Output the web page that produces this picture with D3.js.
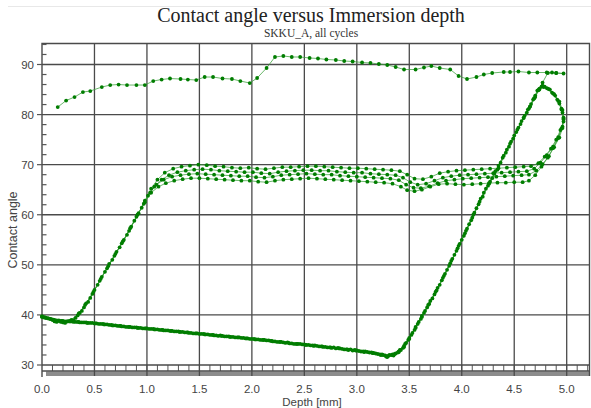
<!DOCTYPE html>
<html>
<head>
<meta charset="utf-8">
<script src="https://cdn.jsdelivr.net/npm/d3@7"></script>
<style>
  body { margin: 0; background: #fff; }
  svg { display: block; }
</style>
</head>
<body>
<div id="chart"></div>
<script>
const titleText = "Contact angle versus Immersion depth";
const subtitleText = "SKKU_A, all cycles";
const xLabel = "Depth [mm]";
const yLabel = "Contact angle";

const xTicks = [0, 0.5, 1, 1.5, 2, 2.5, 3, 3.5, 4, 4.5, 5];
const yTicks = [30, 40, 50, 60, 70, 80, 90];

// cycle 1: first immersion (upper curve), then withdrawal
const cycle1Adv = [[0.15,81.5],[0.23,82.8],[0.31,83.5],[0.39,84.5],[0.46,84.7],[0.57,85.5],[0.65,85.9],[0.73,86.0],[0.81,85.9],[0.90,85.9],[0.98,85.9],[1.06,86.7],[1.14,87.0],[1.22,87.2],[1.32,87.1],[1.39,87.0],[1.47,86.9],[1.55,87.5],[1.63,87.5],[1.72,87.2],[1.81,87.1],[1.89,86.7],[1.98,86.3],[2.05,87.3],[2.14,89.3],[2.22,91.5],[2.30,91.7],[2.38,91.5],[2.46,91.5],[2.55,91.3],[2.63,91.2],[2.71,91.0],[2.80,90.9],[2.88,90.7],[2.96,90.6],[3.05,90.4],[3.13,90.3],[3.21,90.1],[3.29,89.9],[3.37,89.5],[3.45,89.0],[3.56,89.0],[3.64,89.4],[3.71,89.7],[3.79,89.3],[3.89,89.0],[3.97,87.7],[4.05,87.1],[4.14,87.5],[4.21,88.0],[4.29,88.3],[4.40,88.5],[4.46,88.5],[4.54,88.6],[4.64,88.4],[4.72,88.4],[4.81,88.4],[4.86,88.4],[4.90,88.3],[4.97,88.2]];
const cycle1Rec = [[4.90,88.3],[4.82,88.3],[4.77,86.4],[4.73,84.9],[4.69,83.3],[4.65,81.6],[4.59,79.3],[4.52,76.5],[4.45,73.6],[4.37,70.4],[4.29,67.3],[4.21,64.4],[4.14,61.3],[4.07,58.1],[4.00,55.0],[3.93,52.0],[3.86,49.0],[3.79,46.0],[3.72,43.3],[3.65,40.8],[3.59,38.6],[3.53,36.4],[3.47,34.4],[3.42,33.0],[3.37,32.3],[3.31,32.0],[3.24,32.1],[3.16,32.4],[3.08,32.7],[3.00,32.9],[2.92,33.0],[2.84,33.3],[2.76,33.4],[2.68,33.6],[2.60,33.9],[2.52,34.0],[2.44,34.2],[2.36,34.3],[2.28,34.6],[2.20,34.7],[2.12,35.0],[2.04,35.1],[1.96,35.3],[1.88,35.5],[1.80,35.6],[1.72,35.8],[1.64,35.9],[1.56,36.1],[1.48,36.3],[1.40,36.4],[1.32,36.6],[1.24,36.8],[1.16,36.9],[1.08,37.1],[1.00,37.3],[0.92,37.4],[0.84,37.6],[0.76,37.7],[0.68,37.9],[0.60,38.1],[0.52,38.3],[0.44,38.4],[0.36,38.5],[0.28,38.7],[0.20,38.8],[0.12,39.0],[0.04,39.4]];

const cycle2Adv = [[0.00,39.7],[0.08,39.2],[0.16,38.8],[0.24,38.7],[0.32,39.4],[0.38,40.8],[0.44,42.6],[0.50,45.0],[0.57,47.6],[0.64,50.2],[0.71,52.6],[0.78,55.0],[0.85,57.6],[0.92,60.3],[0.98,62.8],[1.04,65.2],[1.10,67.0],[1.17,68.4],[1.25,69.2],[1.33,69.6],[1.41,69.8],[1.49,70.0],[1.57,69.9],[1.65,69.7],[1.73,69.6],[1.81,69.4],[1.89,69.3],[1.97,69.4],[2.05,69.2],[2.13,69.1],[2.21,69.3],[2.29,69.5],[2.37,69.5],[2.45,69.6],[2.53,69.7],[2.61,69.7],[2.69,69.6],[2.77,69.5],[2.85,69.4],[2.93,69.3],[3.01,69.3],[3.09,69.2],[3.17,69.1],[3.25,69.0],[3.33,68.9],[3.41,68.7],[3.48,68.0],[3.55,67.2],[3.63,67.1],[3.71,67.6],[3.79,68.3],[3.87,68.6],[3.95,68.8],[4.03,68.9],[4.11,69.0],[4.19,69.1],[4.27,69.2],[4.35,69.3],[4.43,69.4],[4.51,69.5],[4.59,69.6],[4.66,69.7],[4.73,70.3],[4.79,71.6],[4.85,73.2],[4.90,75.0],[4.94,76.9],[4.97,78.6],[4.96,80.4],[4.93,82.2],[4.89,83.8],[4.84,85.0],[4.79,85.6]];
const cycle2Rec = [[4.74,85.2],[4.70,83.8],[4.66,82.1],[4.62,80.4],[4.56,78.1],[4.49,75.2],[4.42,72.4],[4.34,69.0],[4.26,66.2],[4.18,63.2],[4.11,60.0],[4.04,56.8],[3.97,53.8],[3.90,50.8],[3.83,47.8],[3.76,44.9],[3.69,42.2],[3.62,39.8],[3.56,37.6],[3.50,35.4],[3.45,33.8],[3.40,32.7],[3.34,32.1],[3.27,31.9],[3.20,32.2],[3.12,32.5],[3.04,32.7],[2.96,32.9],[2.88,33.1],[2.80,33.3],[2.72,33.5],[2.64,33.7],[2.56,33.9],[2.48,34.1],[2.40,34.2],[2.32,34.4],[2.24,34.6],[2.16,34.9],[2.08,35.0],[2.00,35.2],[1.92,35.4],[1.84,35.5],[1.76,35.7],[1.68,35.8],[1.60,36.0],[1.52,36.2],[1.44,36.3],[1.36,36.5],[1.28,36.7],[1.20,36.9],[1.12,37.0],[1.04,37.2],[0.96,37.3],[0.88,37.5],[0.80,37.6],[0.72,37.8],[0.64,38.0],[0.56,38.2],[0.48,38.4],[0.40,38.5],[0.32,38.6],[0.24,38.7],[0.16,38.9],[0.08,39.2],[0.00,39.6]];

const cycle3Adv = [[0.02,39.5],[0.10,39.0],[0.18,38.6],[0.26,38.8],[0.34,39.9],[0.40,41.5],[0.46,43.4],[0.53,46.0],[0.60,48.6],[0.67,51.0],[0.74,53.5],[0.81,56.0],[0.88,58.8],[0.95,61.4],[1.01,63.8],[1.07,65.6],[1.14,67.0],[1.21,67.9],[1.29,68.5],[1.37,68.8],[1.45,69.0],[1.53,69.1],[1.61,69.0],[1.69,68.8],[1.77,68.7],[1.85,68.6],[1.93,68.5],[2.01,68.5],[2.09,68.3],[2.17,68.2],[2.25,68.5],[2.33,68.7],[2.41,68.8],[2.49,68.9],[2.57,68.9],[2.65,68.8],[2.73,68.8],[2.81,68.6],[2.89,68.5],[2.97,68.4],[3.05,68.4],[3.13,68.2],[3.21,68.1],[3.29,68.0],[3.37,67.9],[3.44,67.4],[3.51,66.5],[3.58,66.0],[3.66,66.2],[3.74,66.8],[3.82,67.4],[3.90,67.7],[3.98,67.9],[4.06,68.0],[4.14,68.1],[4.22,68.2],[4.30,68.3],[4.38,68.4],[4.46,68.5],[4.54,68.6],[4.62,68.7],[4.69,69.2],[4.75,70.4],[4.81,71.9],[4.87,73.6],[4.92,75.5],[4.96,77.6],[4.97,79.4],[4.95,81.2],[4.91,83.0],[4.86,84.4],[4.81,85.3],[4.77,85.8]];
const cycle3Rec = [[4.73,84.9],[4.69,83.2],[4.64,81.2],[4.59,79.4],[4.53,77.0],[4.46,74.2],[4.39,71.4],[4.31,68.2],[4.23,65.2],[4.16,62.1],[4.09,58.9],[4.02,55.8],[3.95,52.8],[3.88,49.8],[3.81,46.9],[3.74,44.1],[3.67,41.5],[3.61,39.2],[3.55,37.0],[3.49,35.0],[3.44,33.4],[3.39,32.5],[3.33,32.0],[3.28,31.7],[3.22,32.1],[3.14,32.5],[3.06,32.7],[2.98,33.0],[2.90,33.1],[2.82,33.4],[2.74,33.5],[2.66,33.7],[2.58,33.9],[2.50,34.1],[2.42,34.2],[2.34,34.5],[2.26,34.6],[2.18,34.8],[2.10,35.0],[2.02,35.2],[1.94,35.3],[1.86,35.5],[1.78,35.7],[1.70,35.9],[1.62,36.0],[1.54,36.2],[1.46,36.3],[1.38,36.5],[1.30,36.7],[1.22,36.8],[1.14,37.0],[1.06,37.2],[0.98,37.3],[0.90,37.5],[0.82,37.6],[0.74,37.8],[0.66,38.0],[0.58,38.2],[0.50,38.3],[0.42,38.5],[0.34,38.6],[0.26,38.7],[0.18,38.8],[0.10,39.1],[0.02,39.5]];

const cycle4Adv = [[0.04,39.4],[0.12,38.7],[0.20,38.5],[0.28,39.0],[0.35,40.3],[0.41,42.0],[0.48,44.2],[0.55,46.8],[0.62,49.3],[0.69,51.8],[0.76,54.3],[0.83,56.8],[0.90,59.6],[0.97,62.2],[1.03,64.4],[1.09,66.0],[1.16,67.0],[1.24,67.6],[1.32,67.9],[1.40,68.1],[1.48,68.2],[1.56,68.1],[1.64,68.0],[1.72,67.9],[1.80,67.8],[1.88,67.7],[1.96,67.7],[2.04,67.5],[2.12,67.4],[2.20,67.6],[2.28,67.9],[2.36,68.0],[2.44,68.1],[2.52,68.2],[2.60,68.1],[2.68,68.0],[2.76,68.0],[2.84,67.8],[2.92,67.7],[3.00,67.6],[3.08,67.5],[3.16,67.4],[3.24,67.3],[3.32,67.2],[3.40,66.9],[3.47,66.0],[3.54,65.4],[3.61,65.3],[3.69,65.7],[3.77,66.3],[3.85,66.8],[3.93,67.0],[4.01,67.2],[4.09,67.3],[4.17,67.4],[4.25,67.5],[4.33,67.6],[4.41,67.7],[4.49,67.8],[4.57,67.9],[4.64,68.0],[4.71,68.8],[4.77,70.1],[4.83,71.7],[4.88,73.5],[4.93,75.4],[4.96,77.3],[4.97,79.2],[4.95,81.0],[4.92,82.7],[4.87,84.2],[4.82,85.2],[4.76,85.6]];
const cycle4Rec = [[4.72,84.8],[4.68,83.0],[4.63,81.0],[4.57,78.7],[4.50,75.8],[4.43,73.0],[4.35,69.8],[4.27,66.6],[4.20,63.6],[4.12,60.4],[4.05,57.2],[3.98,54.2],[3.91,51.2],[3.84,48.2],[3.77,45.4],[3.70,42.8],[3.64,40.4],[3.58,38.2],[3.52,36.0],[3.46,34.2],[3.41,33.0],[3.36,32.2],[3.30,31.8],[3.25,32.0],[3.18,32.3],[3.10,32.6],[3.02,32.8],[2.94,33.1],[2.86,33.2],[2.78,33.5],[2.70,33.6],[2.62,33.8],[2.54,34.0],[2.46,34.2],[2.38,34.3],[2.30,34.5],[2.22,34.7],[2.14,34.9],[2.06,35.1],[1.98,35.2],[1.90,35.4],[1.82,35.6],[1.74,35.7],[1.66,35.9],[1.58,36.1],[1.50,36.2],[1.42,36.4],[1.34,36.6],[1.26,36.7],[1.18,36.9],[1.10,37.1],[1.02,37.2],[0.94,37.4],[0.86,37.5],[0.78,37.7],[0.70,37.9],[0.62,38.1],[0.54,38.2],[0.46,38.4],[0.38,38.5],[0.30,38.6],[0.22,38.7],[0.14,38.9],[0.06,39.3],[0.00,39.7]];

const cycle5Adv = [[0.06,39.3],[0.14,38.6],[0.22,38.4],[0.30,38.9],[0.36,40.4],[0.42,42.3],[0.49,44.6],[0.56,47.2],[0.63,49.7],[0.70,52.2],[0.77,54.7],[0.84,57.3],[0.91,60.0],[0.98,62.5],[1.04,64.4],[1.11,65.6],[1.18,66.3],[1.26,66.8],[1.34,67.1],[1.42,67.3],[1.50,67.3],[1.58,67.2],[1.66,67.1],[1.74,67.0],[1.82,66.9],[1.90,66.8],[1.98,66.8],[2.06,66.6],[2.14,66.5],[2.22,66.8],[2.30,67.0],[2.38,67.1],[2.46,67.2],[2.54,67.3],[2.62,67.2],[2.70,67.1],[2.78,67.0],[2.86,66.9],[2.94,66.8],[3.02,66.7],[3.10,66.6],[3.18,66.5],[3.26,66.4],[3.34,66.2],[3.42,65.6],[3.48,64.9],[3.55,64.7],[3.62,65.0],[3.70,65.6],[3.78,66.1],[3.86,66.2],[3.94,66.1],[4.02,66.0],[4.10,66.1],[4.18,66.2],[4.26,66.3],[4.34,66.4],[4.42,66.4],[4.50,66.5],[4.58,66.5],[4.64,66.8],[4.70,67.9],[4.76,69.6],[4.82,71.4],[4.87,73.3],[4.92,75.3],[4.95,77.2],[4.97,79.0],[4.96,80.9],[4.93,82.6],[4.88,84.1],[4.83,85.1],[4.78,85.5]];
const cycle5Rec = [[4.74,85.0],[4.70,83.5],[4.65,81.6],[4.60,79.8],[4.54,77.4],[4.47,74.6],[4.40,71.8],[4.32,68.7],[4.25,65.8],[4.17,62.6],[4.10,59.4],[4.03,56.3],[3.96,53.3],[3.89,50.3],[3.82,47.4],[3.75,44.6],[3.68,42.0],[3.62,39.6],[3.56,37.4],[3.50,35.2],[3.45,33.6],[3.40,32.6],[3.35,31.9],[3.29,31.6],[3.23,32.0],[3.15,32.4],[3.07,32.6],[2.99,32.9],[2.91,33.1],[2.83,33.3],[2.75,33.5],[2.67,33.7],[2.59,33.8],[2.51,34.0],[2.43,34.2],[2.35,34.4],[2.27,34.6],[2.19,34.8],[2.11,35.0],[2.03,35.1],[1.95,35.3],[1.87,35.5],[1.79,35.6],[1.71,35.8],[1.63,36.0],[1.55,36.1],[1.47,36.3],[1.39,36.5],[1.31,36.6],[1.23,36.8],[1.15,37.0],[1.07,37.1],[0.99,37.3],[0.91,37.4],[0.83,37.6],[0.75,37.8],[0.67,37.9],[0.59,38.1],[0.51,38.3],[0.43,38.4],[0.35,38.6],[0.27,38.7],[0.19,38.8],[0.11,39.0],[0.03,39.5]];

const cycles = [
  cycle1Adv.concat(cycle1Rec),
  cycle2Adv.concat(cycle2Rec),
  cycle3Adv.concat(cycle3Rec),
  cycle4Adv.concat(cycle4Rec),
  cycle5Adv.concat(cycle5Rec)
];

const width = 591;
const height = 408;
const plotLeft = 42, plotRight = 589.5, plotTop = 43.5, plotBottom = 376;
const rulerY = 365, rulerBottom = 371;

const svg = d3.select("#chart").append("svg")
  .attr("width", width)
  .attr("height", height);

const x = d3.scaleLinear().domain([0, 5]).range([42, 566.7]);
const y = d3.scaleLinear().domain([30, 90]).range([365, 64.5]);

const gridColor = "#4a4a4a";

// faint frame line at top of picture
svg.append("line")
  .attr("x1", 8).attr("x2", width).attr("y1", 6.5).attr("y2", 6.5)
  .attr("stroke", "#e8e8e8");

// titles
svg.append("text")
  .attr("x", 311).attr("y", 22)
  .attr("text-anchor", "middle")
  .style("font-family", "'Liberation Serif', 'Times New Roman', serif")
  .style("font-size", "20px")
  .attr("fill", "#222")
  .text(titleText);

svg.append("text")
  .attr("x", 311).attr("y", 37)
  .attr("text-anchor", "middle")
  .style("font-family", "'Liberation Serif', 'Times New Roman', serif")
  .style("font-size", "11.5px")
  .attr("fill", "#333")
  .text(subtitleText);

// shadow under the ruler
svg.append("rect")
  .attr("x", 46).attr("y", rulerBottom + 0.5)
  .attr("width", plotRight - 46).attr("height", plotBottom - rulerBottom - 0.5)
  .attr("fill", "#8c8c8c");

// ruler with minor ticks every 0.1 mm
svg.append("rect")
  .attr("x", plotLeft).attr("y", rulerY)
  .attr("width", plotRight - plotLeft).attr("height", rulerBottom - rulerY)
  .attr("fill", "#fff");

const minorX = d3.range(0.1, 5.25, 0.1);
svg.append("g").selectAll("line")
  .data(minorX)
  .join("line")
  .attr("x1", d => x(d)).attr("x2", d => x(d))
  .attr("y1", rulerY).attr("y2", rulerBottom)
  .attr("stroke", "#555").attr("stroke-width", 1);

svg.append("line")
  .attr("x1", plotLeft).attr("x2", plotRight).attr("y1", rulerBottom).attr("y2", rulerBottom)
  .attr("stroke", gridColor).attr("stroke-width", 1.3);

// grid
svg.append("g").selectAll("line")
  .data(xTicks.slice(1))
  .join("line")
  .attr("x1", d => x(d)).attr("x2", d => x(d))
  .attr("y1", plotTop).attr("y2", plotBottom)
  .attr("stroke", gridColor).attr("stroke-width", 1.3);

svg.append("g").selectAll("line")
  .data(yTicks)
  .join("line")
  .attr("x1", plotLeft).attr("x2", plotRight)
  .attr("y1", d => y(d)).attr("y2", d => y(d))
  .attr("stroke", gridColor).attr("stroke-width", 1.3);

// frame
svg.append("path")
  .attr("d", `M${plotLeft},${plotBottom + 1}V${plotTop}H${plotRight}V${plotBottom}`)
  .attr("fill", "none")
  .attr("stroke", gridColor).attr("stroke-width", 1.4);

// y axis ticks
const minorY = d3.range(32, 95, 2).filter(v => v % 10 !== 0);
svg.append("g").selectAll("line")
  .data(minorY)
  .join("line")
  .attr("x1", plotLeft).attr("x2", plotLeft + 4.5)
  .attr("y1", d => y(d)).attr("y2", d => y(d))
  .attr("stroke", "#555").attr("stroke-width", 1.2);

svg.append("g").selectAll("line")
  .data(yTicks)
  .join("line")
  .attr("x1", plotLeft - 5).attr("x2", plotLeft)
  .attr("y1", d => y(d)).attr("y2", d => y(d))
  .attr("stroke", "#555").attr("stroke-width", 1.2);

const labelFont = "'Liberation Sans', Arial, sans-serif";

svg.append("g").selectAll("text")
  .data(yTicks)
  .join("text")
  .attr("x", plotLeft - 8).attr("y", d => y(d) + 4)
  .attr("text-anchor", "end")
  .style("font-family", labelFont).style("font-size", "11.5px")
  .attr("fill", "#444")
  .text(d => d);

svg.append("g").selectAll("text")
  .data(xTicks)
  .join("text")
  .attr("x", d => x(d)).attr("y", 393)
  .attr("text-anchor", "middle")
  .style("font-family", labelFont).style("font-size", "11.5px")
  .attr("fill", "#444")
  .text(d => d3.format(".1f")(d));

svg.append("text")
  .attr("x", 312).attr("y", 406)
  .attr("text-anchor", "middle")
  .style("font-family", labelFont).style("font-size", "11.5px")
  .attr("fill", "#444")
  .text(xLabel);

svg.append("text")
  .attr("transform", "translate(17,230) rotate(-90)")
  .attr("text-anchor", "middle")
  .style("font-family", labelFont).style("font-size", "12.5px")
  .attr("fill", "#444")
  .text(yLabel);

// data
const line = d3.line().x(d => x(d[0])).y(d => y(d[1]));

svg.append("g").selectAll("path")
  .data(cycles)
  .join("path")
  .attr("d", line)
  .attr("fill", "none")
  .attr("stroke", "#3aa03a")
  .attr("stroke-opacity", 0.75)
  .attr("stroke-width", 1);

svg.append("g").selectAll("circle")
  .data(cycles.flat())
  .join("circle")
  .attr("cx", d => x(d[0])).attr("cy", d => y(d[1]))
  .attr("r", 1.9)
  .attr("fill", "#007d00");
</script>
</body>
</html>
